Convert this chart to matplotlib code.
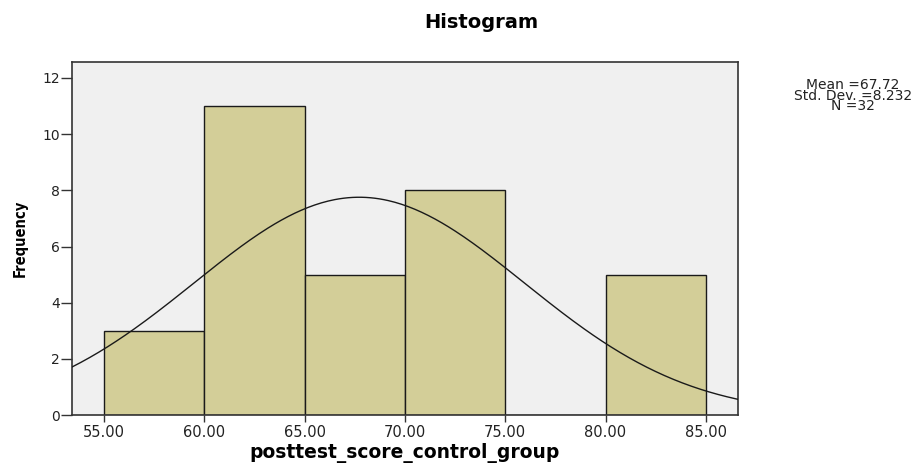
import numpy as np
import matplotlib.pyplot as plt

# histogram bins (lower edges) and counts
bin_starts = [55, 60, 65, 70, 75, 80]
counts = [3, 11, 5, 8, 0, 5]
bin_width = 5

mean = 67.72
sd = 8.232
n = 32

x_ticks = [55, 60, 65, 70, 75, 80, 85]
y_ticks = [0, 2, 4, 6, 8, 10, 12]

fig = plt.figure(figsize=(9.22, 4.65), dpi=100)
ax = fig.add_axes([0.078, 0.1075, 0.7224, 0.7592])
ax.set_facecolor("#f0f0f0")

ax.bar(bin_starts, counts, width=bin_width, align="edge",
       color="#d3ce98", edgecolor="#1a1a1a", linewidth=1.0, zorder=2)

# normal curve scaled to the histogram
xs = np.linspace(53.4, 86.6, 300)
pdf = np.exp(-0.5 * ((xs - mean) / sd) ** 2) / (sd * np.sqrt(2 * np.pi))
ax.plot(xs, n * bin_width * pdf, color="#1a1a1a", linewidth=1.0, zorder=3)

ax.set_xlim(53.4, 86.6)
ax.set_ylim(0, 12.57)
ax.set_xticks(x_ticks)
ax.set_xticklabels([f"{v:.2f}" for v in x_ticks], fontsize=10.5, family="DejaVu Sans")
ax.set_yticks(y_ticks)
ax.set_yticklabels([str(v) for v in y_ticks], fontsize=10, family="DejaVu Sans")
ax.tick_params(axis="x", length=5, width=1, color="#333333", pad=2, labelcolor="#222222")
ax.tick_params(axis="y", length=8, width=1, color="#333333", pad=0.5, labelcolor="#222222")

for s in ax.spines.values():
    s.set_color("#333333")
    s.set_linewidth(1.2)

ax.set_xlabel("posttest_score_control_group", fontsize=13.5, fontweight="bold",
              family="DejaVu Sans")
ax.xaxis.set_label_coords(0.5, -0.08)
ax.set_ylabel("Frequency", fontsize=10.5, fontweight="bold",
              family="DejaVu Sans", fontstretch="condensed")
ax.yaxis.set_label_coords(-0.066, 0.5)

fig.text(0.522, 0.952, "Histogram", ha="center", va="center", fontsize=14,
         fontweight="bold", family="DejaVu Sans")

fig.text(0.925, 0.794, f"Mean ={mean}\nStd. Dev. ={sd}\nN ={n}", ha="center",
         va="center", fontsize=10, family="DejaVu Sans", linespacing=0.7,
         color="#222222")

fig.savefig("out.png", dpi=100)
